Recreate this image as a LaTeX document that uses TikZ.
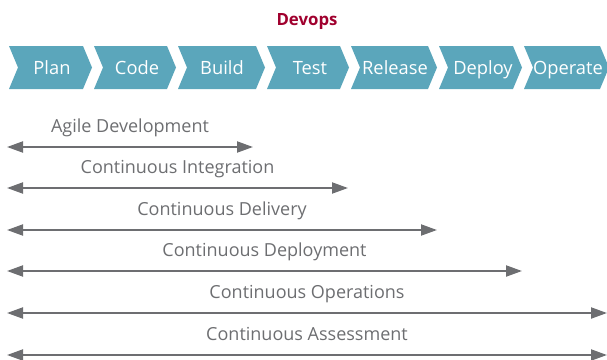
\documentclass[tikz,border=0pt]{standalone}
\usepackage{fontspec}
\setmainfont{Open Sans}
\usetikzlibrary{arrows.meta,calc}
\definecolor{stage}{HTML}{5BA6BB}
\definecolor{title}{HTML}{A0002E}
\definecolor{span}{HTML}{6D6E71}
\tikzset{
  stagebox/.style={fill=stage, draw=none},
  stagetext/.style={anchor=base, text=white, font=\fontsize{18.3}{20}\selectfont, inner sep=0pt},
  spanline/.style={draw=span, line width=2pt, {Triangle[length=16pt,width=11pt]}-{Triangle[length=16pt,width=11pt]}},
  spantext/.style={anchor=base, text=span, font=\fontsize{18}{20}\selectfont, inner sep=0pt},
}
\begin{document}
\begin{tikzpicture}[x=1pt, y=-1pt]
  \useasboundingbox (0,0) rectangle (607,359);
  % heading
  \node[anchor=base, text=title, font=\bfseries\fontsize{16.8}{18}\selectfont, inner sep=0pt] (head) at (307,25) {Devops};
  % stage chevrons: left edge / top-right corner / text centre / name
  \foreach \xl/\xr/\xt/\lab/\nm in {9/83/52/Plan/plan, 94/167/137/Code/code, 178/256/222/Build/build,
      267/340/310/Test/test, 351/428/395/Release/release, 439/513/483/Deploy/deploy, 524/600/568/Operate/operate}{
    \path[stagebox] (\xl,46) -- (\xr,46) -- (\xr+9,67.5) -- (\xr,89) -- (\xl,89) -- (\xl+9,67.5) -- cycle;
    \node[stagetext] (\nm) at (\xt,74) {\lab};
  }
  % practice spans
  \foreach \y/\xe/\lab/\nm in {147/253/Agile Development/agile, 188/348/Continuous Integration/ci,
      230/437/Continuous Delivery/cdel, 271/522/Continuous Deployment/cdep,
      313/607/Continuous Operations/cops, 355/607/Continuous Assessment/cas}{
    \coordinate (\nm-l) at (7,\y);
    \coordinate (\nm-r) at (\xe,\y);
    \draw[spanline] (\nm-l) -- (\nm-r);
    \node[spantext] (\nm) at ($(\nm-l)!0.5!(\nm-r)+(0,-15)$) {\lab};
  }
\end{tikzpicture}
\end{document}
